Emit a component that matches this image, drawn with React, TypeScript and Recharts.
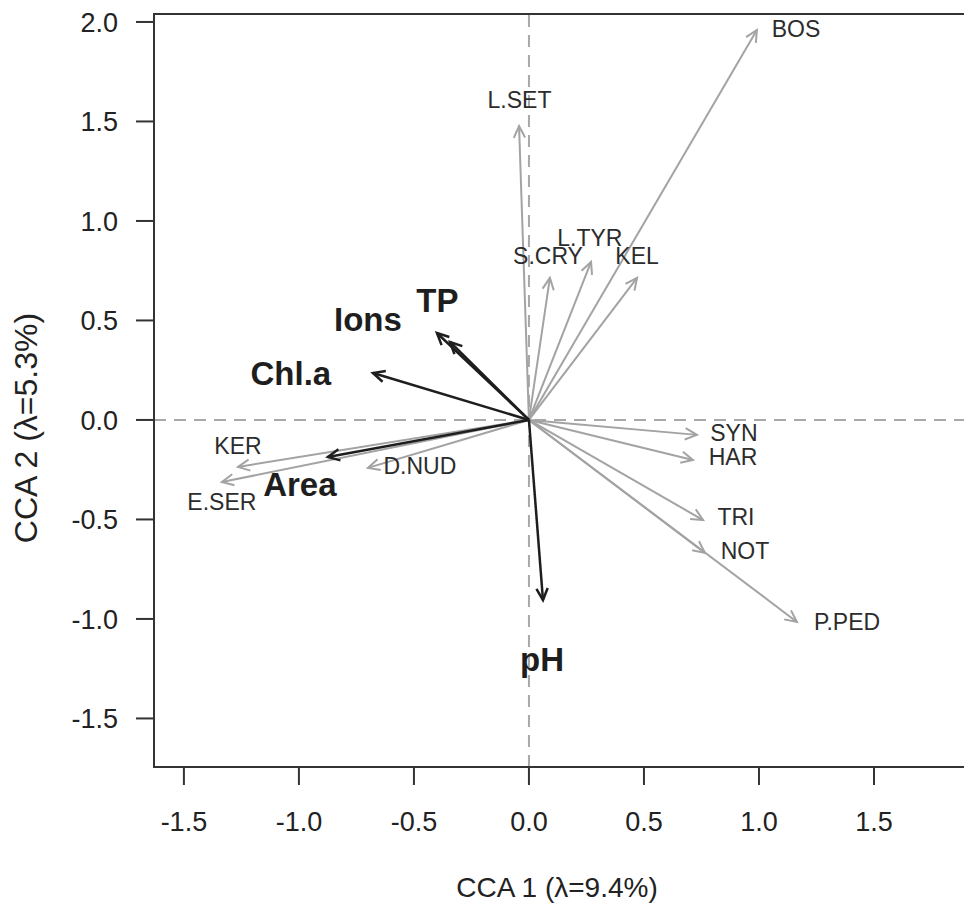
import React from 'react';
import { ScatterChart, Scatter, XAxis, YAxis, ReferenceLine, ReferenceArea } from 'recharts';

// species scores (arrow tips) and where their names sit
const speciesNames = ['BOS', 'L.SET', 'S.CRY', 'L.TYR', 'KEL', 'SYN', 'HAR', 'TRI', 'NOT', 'P.PED', 'KER', 'E.SER', 'D.NUD'];
const speciesX = [0.991, -0.043, 0.091, 0.27, 0.47, 0.73, 0.713, 0.757, 0.765, 1.165, -1.265, -1.335, -0.7];
const speciesY = [1.96, 1.477, 0.714, 0.794, 0.714, -0.075, -0.201, -0.503, -0.668, -1.015, -0.236, -0.312, -0.241];
const speciesLabelX = [1.161, -0.041, 0.083, 0.265, 0.47, 0.891, 0.887, 0.9, 0.939, 1.383, -1.265, -1.335, -0.474];
const speciesLabelY = [1.967, 1.606, 0.824, 0.915, 0.824, -0.065, -0.186, -0.487, -0.658, -1.015, -0.131, -0.412, -0.231];

// environmental vectors
const envNames = ['TP', 'Ions', 'Chl.a', 'Area', 'pH'];
const envX = [-0.4, -0.343, -0.678, -0.874, 0.061];
const envY = [0.437, 0.392, 0.236, -0.186, -0.905];
const envLabelX = [-0.398, -0.7, -1.035, -0.996, 0.057];
const envLabelY = [0.6, 0.503, 0.231, -0.322, -1.206];

const xTicks = [-1.5, -1, -0.5, 0, 0.5, 1, 1.5];
const yTicks = [-1.5, -1, -0.5, 0, 0.5, 1, 1.5, 2];
const xDomain = [-1.63, 2.0];
const yDomain = [-1.744, 2.04];

const FONT = '"Liberation Sans", Arial, Helvetica, sans-serif';
const GREY = '#a3a3a3';
const DARK = '#1e1e1e';

const speciesLabels = speciesNames.map((name, i) => ({ name, x: speciesLabelX[i], y: speciesLabelY[i] }));
const envLabels = envNames.map((name, i) => ({ name, x: envLabelX[i], y: envLabelY[i] }));

// line from origin with an open R-style arrow head
const arrowShape = (color: string, width: number) => (p: any) => {
  const { x1, y1, x2, y2 } = p;
  const ang = Math.atan2(y2 - y1, x2 - x1);
  const len = 13;
  const spread = Math.PI / 7;
  const ax = x2 - len * Math.cos(ang - spread);
  const ay = y2 - len * Math.sin(ang - spread);
  const bx = x2 - len * Math.cos(ang + spread);
  const by = y2 - len * Math.sin(ang + spread);
  return (
    <g>
      <line x1={x1} y1={y1} x2={x2} y2={y2} stroke={color} strokeWidth={width} />
      <polyline
        points={`${ax},${ay} ${x2},${y2} ${bx},${by}`}
        fill="none"
        stroke={color}
        strokeWidth={width}
      />
    </g>
  );
};

const textShape = (size: number, weight: string, color: string) => (p: any) => (
  <text
    x={p.cx}
    y={p.cy}
    textAnchor="middle"
    dominantBaseline="central"
    fontSize={size}
    fontWeight={weight}
    fill={color}
    fontFamily={FONT}
  >
    {p.payload.name}
  </text>
);

export default function App() {
  return (
    <div style={{ position: 'absolute', left: 0, top: 0, width: 964, height: 904, overflow: 'hidden', background: '#fff' }}>
      <ScatterChart width={1000} height={904} margin={{ top: 14, right: 11, left: 0, bottom: 0 }}>
        <XAxis
          type="number"
          dataKey="x"
          domain={xDomain}
          allowDataOverflow
          ticks={xTicks}
          tickFormatter={(v) => v.toFixed(1)}
          height={137}
          tickSize={18}
          tickMargin={27}
          axisLine={{ stroke: '#333', strokeWidth: 2 }}
          tickLine={{ stroke: '#333', strokeWidth: 2 }}
          tick={{ fontSize: 27, fill: '#222', fontFamily: FONT }}
          label={{
            content: () => (
              <text x={557} y={897} textAnchor="middle" fontSize={28} fill="#222" fontFamily={FONT}>
                CCA 1 (λ=9.4%)
              </text>
            ),
          }}
        />
        <YAxis
          type="number"
          dataKey="y"
          domain={yDomain}
          allowDataOverflow
          ticks={yTicks}
          tickFormatter={(v) => v.toFixed(1)}
          width={154}
          tickSize={18}
          tickMargin={18}
          axisLine={{ stroke: '#333', strokeWidth: 2 }}
          tickLine={{ stroke: '#333', strokeWidth: 2 }}
          tick={{ fontSize: 27, fill: '#222', fontFamily: FONT }}
          label={{
            content: () => (
              <text
                x={26}
                y={428}
                transform="rotate(-90 26 428)"
                textAnchor="middle"
                dominantBaseline="central"
                fontSize={32}
                fill="#222"
                fontFamily={FONT}
              >
                CCA 2 (λ=5.3%)
              </text>
            ),
          }}
        />
        <ReferenceArea
          x1={xDomain[0]}
          x2={xDomain[1]}
          y1={yDomain[0]}
          y2={yDomain[1]}
          fill="none"
          fillOpacity={0}
          stroke="#333"
          strokeWidth={2}
          strokeOpacity={1}
          ifOverflow="visible"
        />
        <ReferenceLine x={0} stroke="#a8a8a8" strokeWidth={2} strokeDasharray="12 8" />
        <ReferenceLine y={0} stroke="#a8a8a8" strokeWidth={2} strokeDasharray="12 8" />
        {speciesNames.map((n, i) => (
          <ReferenceLine
            key={n}
            segment={[{ x: 0, y: 0 }, { x: speciesX[i], y: speciesY[i] }]}
            shape={arrowShape(GREY, 2)}
          />
        ))}
        {envNames.map((n, i) => (
          <ReferenceLine
            key={n}
            segment={[{ x: 0, y: 0 }, { x: envX[i], y: envY[i] }]}
            shape={arrowShape(DARK, 2.5)}
          />
        ))}
        <Scatter data={speciesLabels} isAnimationActive={false} shape={textShape(23, 'normal', '#2c2c2c')} />
        <Scatter data={envLabels} isAnimationActive={false} shape={textShape(33, 'bold', DARK)} />
      </ScatterChart>
    </div>
  );
}
